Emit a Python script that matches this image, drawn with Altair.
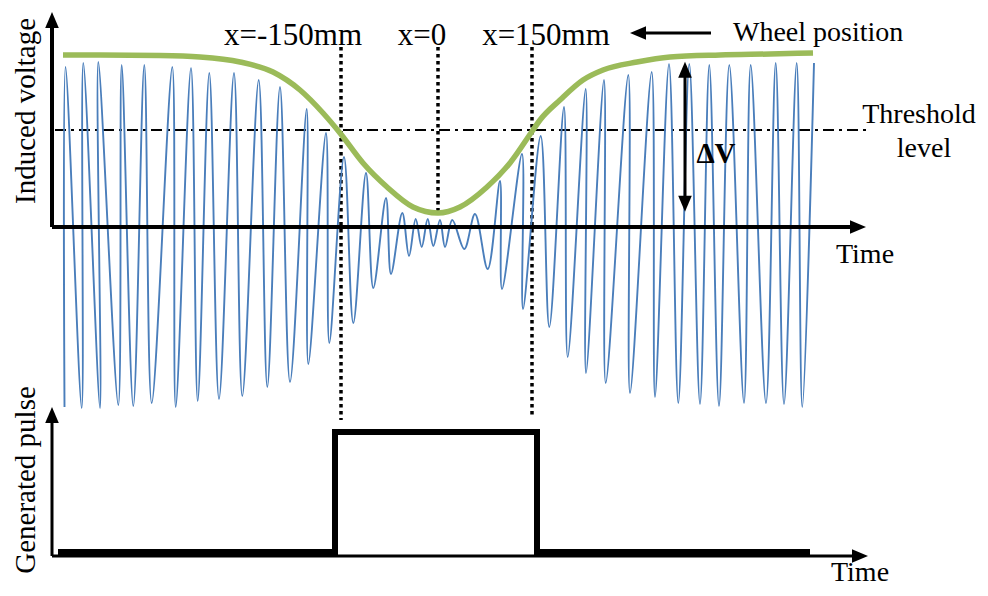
import altair as alt
import pandas as pd

# ---------------- data ----------------
# time axis in drawing units (0 = origin of the axes), voltage in drawing units (0 = time axis)
# induced voltage: successive extremes of the oscillation, in drawing order
sig_t = [12.5, 13.5, 29.7, 31.3, 48.0, 46.3, 66.3, 69.7, 81.3, 92.3, 99.7, 120.3, 123.7, 139.0,
         145.7, 157.3, 167.0, 182.0, 190.3, 206.7, 215.3, 228.0, 238.0, 254.7, 256.3, 274.0,
         277.3, 292.0, 301.3, 314.0, 321.3, 334.0, 339.0, 350.3, 357.0, 363.7, 369.7, 375.7,
         381.3, 388.0, 393.0, 400.3, 412.3, 423.0, 435.7, 448.0, 450.0, 470.0, 471.0, 488.7,
         497.3, 512.0, 515.7, 533.7, 534.0, 552.0, 553.7, 576.3, 578.0, 599.7, 603.0, 617.0,
         626.3, 637.3, 648.0, 657.3, 667.0, 677.3, 692.0, 698.7, 714.0, 723.7, 732.0, 744.7,
         750.3, 762.0]
sig_v = [-180, 160, -181, 164, -181, 165, -178, 162, -179, 162, -176, 160, -180, 159,
         -174, 154, -172, 154, -169, 147, -160, 140, -155, 118, -137, 94,
         -116, 70, -96, 54, -61, 29, -47, 14, -29, 8, -20, 8,
         -19, 7, -20, 7, -22, 13, -42, 46, -62, 73, -82, 91,
         -100, 120, -130, 138, -146, 147, -156, 152, -166, 155, -170, 163,
         -176, 163, -177, 162, -179, 162, -176, 162, -176, 164, -177, 164,
         -180, 164]

# envelope (green)
env_t = [11, 48, 108, 148, 188, 221, 248, 271, 288, 311, 335, 361, 386, 408, 435, 458,
         481, 488, 508, 531, 551, 585, 618, 668, 718, 761]
env_v = [172, 172, 171.5, 170, 165, 155, 137, 114, 94, 64, 40, 20, 14, 20, 40, 64,
         97, 107, 127, 147, 157, 165, 170, 172, 173, 174]

threshold_v = 97
threshold_t = [3, 814]

# wheel position markers x=-150mm, x=0, x=150mm
marker_t = [289, 386, 480]
marker_top = [180, 180, 180]
marker_bottom = [-193, 14, -191]
marker_label = ["x=-150mm", "x=0", "x=150mm"]

# generated pulse (0 = low, 1 = high)
pulse_t = [6, 283, 485, 758]
pulse_p = [0, 1, 0, 0]

# ---------------- scales ----------------
xs = alt.Scale(domain=[-44, 928], nice=False, zero=False)
ys = alt.Scale(domain=[-361, 219], nice=False, zero=False)
ps = alt.Scale(domain=[-0.3, 4.5333], nice=False, zero=False)

FONT = "Liberation Serif"


def X(f):
    return alt.X(f, type="quantitative", scale=xs, axis=None)


def Y(f, s=ys):
    return alt.Y(f, type="quantitative", scale=s, axis=None)


sig = pd.DataFrame({"i": list(range(len(sig_t))), "t": sig_t, "v": sig_v})
env = pd.DataFrame({"t": env_t, "v": env_v})
pulse = pd.DataFrame({"t": pulse_t, "p": pulse_p})

thr = pd.DataFrame({"t": [threshold_t[0]], "t2": [threshold_t[1]], "v": [threshold_v]})
mk = pd.DataFrame({"t": marker_t, "v": marker_top, "v2": marker_bottom})

threshold = alt.Chart(thr).mark_rule(color="black", strokeWidth=2.2,
                                     strokeDash=[11, 5, 3, 5]).encode(
    x=X("t"), x2="t2", y=Y("v"))

markers = alt.Chart(mk).mark_rule(color="black", strokeWidth=3.5,
                                  strokeDash=[3.5, 3.5]).encode(
    x=X("t"), y=Y("v"), y2="v2")

signal = alt.Chart(sig).mark_line(color="#4A7EBB", strokeWidth=1.9,
                                  interpolate="catmull-rom").encode(
    x=X("t"), y=Y("v"), order="i:Q")

envelope = alt.Chart(env).mark_line(color="#9BBB59", strokeWidth=5.5,
                                    interpolate="monotone").encode(
    x=X("t"), y=Y("v"))

# axes (top panel)
top_axes = pd.DataFrame({"t": [0, 0], "t2": [0, 800], "v": [0, 0], "v2": [205, 0]})
top_ax = alt.Chart(top_axes).mark_rule(color="black", strokeWidth=4).encode(
    x=X("t"), x2="t2", y=Y("v"), y2="v2")

# axes (bottom panel)
bot_axes = pd.DataFrame({"t": [0, 0], "t2": [0, 802], "v": [-329, -329], "v2": [-186, -329]})
bot_ax = alt.Chart(bot_axes).mark_rule(color="black", strokeWidth=3).encode(
    x=X("t"), x2="t2", y=Y("v"), y2="v2")

# other arrows
arr = pd.DataFrame({"t": [588, 633], "t2": [659, 633], "v": [194, 20], "v2": [194, 160]})
arrows = alt.Chart(arr).mark_rule(color="black", strokeWidth=3).encode(
    x=X("t"), x2="t2", y=Y("v"), y2="v2")

UP = "M0,-1L-0.85,1L0.85,1Z"
DOWN = "M0,1L-0.85,-1L0.85,-1Z"
RIGHT = "M1,0L-1,-0.85L-1,0.85Z"
LEFT = "M-1,0L1,-0.85L1,0.85Z"


def heads(ts, vs, shape, size=256):
    d = pd.DataFrame({"t": ts, "v": vs})
    return alt.Chart(d).mark_point(shape=shape, filled=True, size=size, color="black",
                                   opacity=1, strokeWidth=0).encode(x=X("t"), y=Y("v"))


h_up = heads([0, 0, 633], [207, -188, 157.3], UP)
h_right = heads([806, 808], [0, -329], RIGHT)
h_down = heads([633], [23.3], DOWN)
h_left = heads([586], [194], LEFT)

pulse_line = alt.Chart(pulse).mark_line(color="black", strokeWidth=6,
                                        interpolate="step-after").encode(
    x=X("t"), y=Y("p", ps))


def label(ts, vs, texts, align="center", size=28, weight="normal", angle=0):
    d = pd.DataFrame({"t": ts, "v": vs, "s": texts})
    return alt.Chart(d).mark_text(font=FONT, fontSize=size, align=align, baseline="alphabetic",
                                  fontWeight=weight, angle=angle, color="black").encode(
        x=X("t"), y=Y("v"), text="s:N")


lab_x = label([241, 370, 494], [182, 182, 182], marker_label, size=31)
lab_wheel = label([681], [186], ["Wheel position"], align="left")
lab_thr = label([867, 872], [104, 70], ["Threshold", "level"])
lab_time = label([813, 808], [-36, -354], ["Time", "Time"])
lab_dv = label([664], [64], ["ΔV"], weight="bold", size=29)
lab_y1 = label([-17], [116], ["Induced voltage"], angle=270, size=29)
lab_y2 = label([-17], [-253], ["Generated pulse"], angle=270, size=29)

chart = alt.layer(
    threshold, markers, signal, envelope, top_ax, bot_ax, arrows,
    h_up, h_right, h_down, h_left, pulse_line,
    lab_x, lab_wheel, lab_thr, lab_time, lab_dv, lab_y1, lab_y2,
).resolve_scale(y="independent").properties(
    width=972, height=580, autosize=alt.AutoSizeParams(type="none"), padding=0
).configure_view(stroke=None)

chart.save("out.html", embed_options={"renderer": "svg", "actions": False})
